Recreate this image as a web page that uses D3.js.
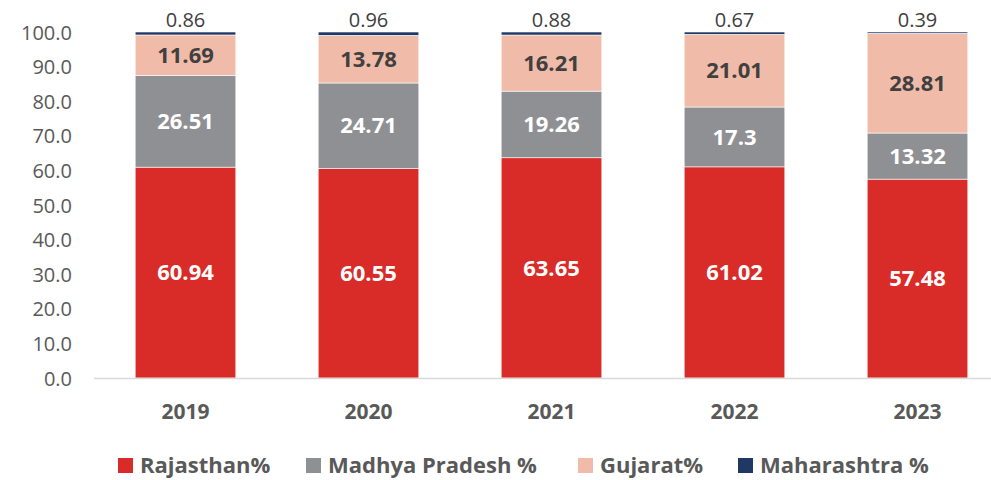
<!DOCTYPE html>
<html>
<head>
<meta charset="utf-8">
<script src="https://cdn.jsdelivr.net/npm/d3@7"></script>
<style>
  body { margin: 0; background: #fff; }
  text { font-family: "Open Sans", "Liberation Sans", sans-serif; }
</style>
</head>
<body>
<div id="chart"></div>
<script>
// data
var years = ["2019", "2020", "2021", "2022", "2023"];
var rajasthan = [60.94, 60.55, 63.65, 61.02, 57.48];
var madhyaPradesh = [26.51, 24.71, 19.26, 17.3, 13.32];
var gujarat = [11.69, 13.78, 16.21, 21.01, 28.81];
var maharashtra = [0.86, 0.96, 0.88, 0.67, 0.39];
var seriesNames = ["Rajasthan%", "Madhya Pradesh %", "Gujarat%", "Maharashtra %"];
var yTicks = [0, 10, 20, 30, 40, 50, 60, 70, 80, 90, 100];

var colors = ["#D92B27", "#8F9094", "#F0BBA8", "#1F3864"];
var labelColors = ["#ffffff", "#ffffff", "#404040", "#404040"];

var width = 991, height = 480;

var svg = d3.select("#chart")
  .append("svg")
    .attr("width", width)
    .attr("height", height);

// build rows for stacking
var rows = years.map(function(y, i) {
  return {
    year: y,
    "Rajasthan%": rajasthan[i],
    "Madhya Pradesh %": madhyaPradesh[i],
    "Gujarat%": gujarat[i],
    "Maharashtra %": maharashtra[i]
  };
});
var stacked = d3.stack().keys(seriesNames)(rows);

var x = d3.scaleBand()
  .domain(years)
  .range([94, 1009])
  .paddingInner(0.45)
  .paddingOuter(0.225);

var y = d3.scaleLinear()
  .domain([0, 100])
  .range([378, 32]);

// y axis labels
svg.append("g")
  .attr("transform", "translate(72,0)")
  .call(d3.axisLeft(y).tickValues(yTicks).tickSize(0).tickPadding(0)
    .tickFormat(d3.format(".1f")))
  .call(function(g) { g.select(".domain").remove(); })
  .selectAll("text")
    .style("font-family", "'Open Sans', sans-serif")
    .style("font-size", "20px")
    .attr("fill", "#595959")
    .attr("dy", "0.35em");

// bars
var groups = svg.selectAll(".series")
  .data(stacked)
  .enter()
  .append("g")
    .attr("class", "series")
    .attr("fill", function(d, i) { return colors[i]; });

groups.selectAll("rect")
  .data(function(d) { return d; })
  .enter()
  .append("rect")
    .attr("x", function(d) { return x(d.data.year); })
    .attr("y", function(d) { return y(d[1]); })
    .attr("width", x.bandwidth())
    .attr("height", function(d) { return y(d[0]) - y(d[1]); })
    .attr("stroke", "#ffffff")
    .attr("stroke-width", 0.6);

// x axis line
svg.append("line")
  .attr("x1", 94).attr("x2", 991)
  .attr("y1", y(0) + 0.5).attr("y2", y(0) + 0.5)
  .attr("stroke", "#d9d9d9")
  .attr("stroke-width", 1.5);

// year labels
svg.append("g")
  .selectAll("text")
  .data(years)
  .enter()
  .append("text")
    .attr("x", function(d) { return x(d) + x.bandwidth() / 2; })
    .attr("y", 412)
    .attr("dy", "0.35em")
    .attr("text-anchor", "middle")
    .style("font-size", "21px")
    .style("font-weight", "bold")
    .attr("fill", "#595959")
    .text(function(d) { return d; });

// value labels
stacked.forEach(function(s, si) {
  svg.append("g")
    .selectAll("text")
    .data(s)
    .enter()
    .append("text")
      .attr("x", function(d) { return x(d.data.year) + x.bandwidth() / 2; })
      .attr("y", function(d) {
        if (si == 3) return y(d[1]) - 12;
        return y((d[0] + d[1]) / 2);
      })
      .attr("dy", "0.35em")
      .attr("text-anchor", "middle")
      .style("font-size", si == 3 ? "20px" : "22px")
      .style("font-weight", si == 3 ? "normal" : "bold")
      .attr("fill", labelColors[si])
      .text(function(d) { return d.data[s.key]; });
});

// legend
var legendX = [118, 306, 578, 738];
var legend = svg.append("g")
  .selectAll("g")
  .data(seriesNames)
  .enter()
  .append("g")
    .attr("transform", function(d, i) { return "translate(" + legendX[i] + ",465)"; });

legend.append("rect")
  .attr("x", 0).attr("y", -7)
  .attr("width", 15).attr("height", 15)
  .attr("fill", function(d, i) { return colors[i]; });

legend.append("text")
  .attr("x", 22)
  .attr("y", 0)
  .attr("dy", "0.35em")
  .style("font-size", "22px")
  .style("font-weight", "bold")
  .attr("fill", "#595959")
  .text(function(d) { return d; });
</script>
</body>
</html>
